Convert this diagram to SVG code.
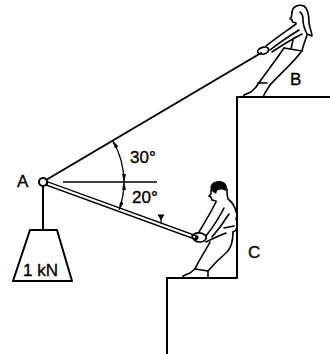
<svg xmlns="http://www.w3.org/2000/svg" width="330" height="354" viewBox="0 0 330 354">
  <style>
    .ln { fill: none; stroke: #000; stroke-width: 2; stroke-linecap: round; stroke-linejoin: round; }
    .fig { fill: none; stroke: #000; stroke-width: 1.6; stroke-linecap: round; stroke-linejoin: round; }
    .thin { fill: none; stroke: #000; stroke-width: 1.3; }
    .lbl { font-family: "Liberation Sans", Arial, Helvetica, sans-serif; font-size: 17px; fill: #000; stroke: #000; stroke-width: 0.35; }
  </style>
  <defs>
    <marker id="tip" viewBox="0 0 8 4" refX="8" refY="2" markerWidth="8" markerHeight="4" markerUnits="userSpaceOnUse" orient="auto-start-reverse">
      <path d="M0,0 L8,2 L0,4 Z" fill="#000"/>
    </marker>
  </defs>

  <rect width="330" height="354" fill="#fff"/>

  <!-- stepped wall: upper ledge B, lower step C -->
  <g id="steps">
    <path class="ln" d="M330,97 L237,97 L237,278 L167,278 L167,354"/>
  </g>

  <g id="connectors">
    <!-- rope from A to the woman's hands -->
    <line class="ln" x1="46" y1="180" x2="261" y2="53"/>
    <!-- horizontal reference -->
    <line class="thin" x1="63" y1="182" x2="157" y2="182"/>
    <!-- pole from A to the man's hands (hollow bar) -->
    <line x1="47" y1="183.5" x2="196" y2="237.7" stroke="#000" stroke-width="5" stroke-linecap="round"/>
    <line x1="48" y1="183.8" x2="195" y2="237.3" stroke="#fff" stroke-width="2"/>
    <!-- small load mark on the pole -->
    <path d="M157.5,214.5 L164.5,214.5 L161,220.5 Z" fill="#000"/>
    <line x1="161" y1="219" x2="161" y2="223" stroke="#000" stroke-width="1.2"/>
    <!-- hanger from A to weight -->
    <line class="ln" x1="43" y1="186" x2="43" y2="230"/>
    <!-- angle arcs -->
    <path class="thin" d="M112.6,140.6 A81,81 0 0 1 124,182" marker-start="url(#tip)" marker-end="url(#tip)"/>
    <path class="thin" d="M124,182 A81,81 0 0 1 119.1,209.7" marker-start="url(#tip)" marker-end="url(#tip)"/>
  </g>

  <g id="A">
    <circle cx="43" cy="182" r="4" fill="#fff" stroke="#000" stroke-width="2"/>
    <text class="lbl" x="17" y="187" font-size="16">A</text>
  </g>

  <g id="weight">
    <path class="ln" d="M30,230 L57,230 L72,281 L13,281 Z"/>
    <text class="lbl" x="23" y="276" font-size="17">1 kN</text>
  </g>

  <g id="angles">
    <text class="lbl" x="130" y="163">30°</text>
    <text class="lbl" x="132" y="203">20°</text>
  </g>

  <!-- woman pulling the rope on ledge B -->
  <g id="B">
    <path fill="#fff" class="fig" d="M292,12 C293,6 299,4 304,6 C308,9 309,16 309,23 C310,29 312,33 312,36 L307,34 C305,30 303,26 303,20 C303,16 302,13 300,12"/>
    <path class="fig" d="M292,12 L291.5,17 L290,18.5 L292,20 L292.5,22 L296,23"/>
    <path class="fig" d="M296,24 C288,30 276,38 266,46"/>
    <path class="fig" d="M299,30 C291,35 280,42 270,50"/>
    <path class="fig" d="M302,34 C294,38 284,44 272,52"/>
    <path class="fig" d="M258,50 C261,47 266,46 268,48 C270,51 266,55 261,54 C258,54 257,52 258,50"/>
    <path class="fig" d="M307,35 C305,41 303,46 302,51"/>
    <path class="fig" d="M293,40 L291,49"/>
    <path class="fig" d="M284,48 L302,51"/>
    <path class="fig" d="M284,48 C276,60 265,74 256,87"/>
    <path class="fig" d="M301,52 C293,63 280,74 270,85"/>
    <path class="fig" d="M258,83 L267,83"/>
    <path class="fig" d="M256,87 L251,92 L244,95 L244,97 L263,97 L265,93 L270,85"/>
    <text class="lbl" x="290" y="85">B</text>
  </g>

  <!-- man holding the pole at C -->
  <g id="C">
    <path d="M211,190 C209,185 213,181 219,181 C224,181 227,184 227,188 L226,191 C223,189 219,189 217,191 L216,194 L213,192 Z" fill="#000"/>
    <path class="fig" d="M211,190 L211,194 L209,196 L211,197 L212,200 L216,201"/>
    <path class="fig" d="M227,189 C227,193 227,196 228,199 C232,202 235,206 236,212"/>
    <path class="fig" d="M216,202 C211,212 205,222 199,232"/>
    <path class="fig" d="M224,208 C219,218 213,227 206,236"/>
    <path class="fig" d="M229,214 C224,222 219,229 212,237"/>
    <path class="fig" d="M192,236 C195,232 201,232 205,235 C208,238 205,242 200,242 C196,242 193,240 192,236"/>
    <path class="fig" d="M224,228 L234,226"/>
    <path class="fig" d="M206,242 C210,240 218,236 226,233"/>
    <path class="fig" d="M210,242 C206,250 199,260 195,269"/>
    <path class="fig" d="M233,232 C233,240 231,248 227,252 C220,258 213,265 208,271"/>
    <path class="fig" d="M236,218 C238,224 238,230 233,232"/>
    <path class="fig" d="M195,269 L190,273 L183,276 L183,278 L208,278 L208,271 Z"/>
    <text class="lbl" x="248" y="258" font-size="16">C</text>
  </g>
</svg>
